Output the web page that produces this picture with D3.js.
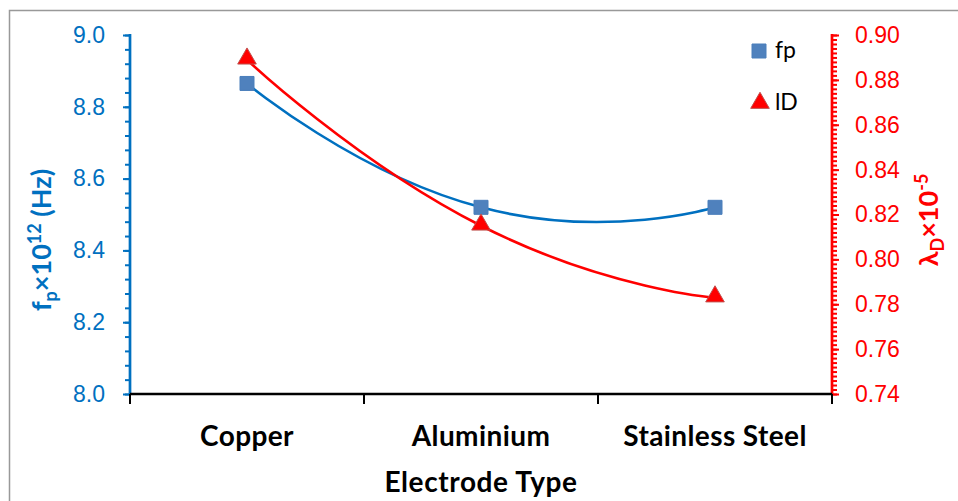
<!DOCTYPE html>
<html><head><meta charset="utf-8">
<script src="https://cdn.jsdelivr.net/npm/d3@7"></script>
<style>body{margin:0;background:#fff}svg{display:block;font-family:Lato,"Open Sans",sans-serif}</style>
</head><body><svg id="c" width="958" height="501"></svg>
<script>
const categories = ["Copper", "Aluminium", "Stainless Steel"];
const fpValues = [8.865, 8.52, 8.52];
const ldValues = [0.889, 0.815, 0.783];
const leftTicks = [8.0, 8.2, 8.4, 8.6, 8.8, 9.0];
const rightTicks = [0.74, 0.76, 0.78, 0.80, 0.82, 0.84, 0.86, 0.88, 0.90];

const BLUE = "#0070C0", RED = "#FF0000";
const svg = d3.select("#c");
const L = 130, R = 832, T = 35, B = 394;

svg.append("rect").attr("x", 9.5).attr("y", 10.5).attr("width", 960).attr("height", 500)
  .attr("fill", "none").attr("stroke", "#999").attr("stroke-width", 1.5);

const x = d3.scaleBand().domain(categories).range([L, R]).padding(0);
const yL = d3.scaleLinear().domain([8, 9]).range([B, T]);
const yR = d3.scaleLinear().domain([0.74, 0.90]).range([B, T]);

// Left axis
const gl = svg.append("g").attr("transform", `translate(${L},0)`);
gl.call(d3.axisLeft(yL).tickValues(d3.range(0, 26).map(i => 8 + i * 0.04)).tickSize(5).tickFormat(""));
gl.selectAll(".tick line").attr("stroke", BLUE).attr("stroke-width", 2);
const glm = svg.append("g").attr("transform", `translate(${L},0)`)
  .call(d3.axisLeft(yL).tickValues(leftTicks).tickSize(7).tickPadding(18).tickFormat(d3.format(".1f")));
glm.selectAll(".tick line").attr("stroke", BLUE).attr("stroke-width", 2);
glm.selectAll(".tick text").attr("fill", BLUE).attr("font-size", 23);
svg.selectAll(".domain").remove();
svg.append("line").attr("x1", L).attr("x2", L).attr("y1", T - 1).attr("y2", B)
  .attr("stroke", BLUE).attr("stroke-width", 2.7);

// Right axis
const gr = svg.append("g").attr("transform", `translate(${R},0)`);
gr.call(d3.axisRight(yR).tickValues(d3.range(0, 81).map(i => 0.74 + i * 0.002)).tickSize(5).tickFormat(""));
gr.selectAll(".tick line").attr("stroke", RED).attr("stroke-width", 2);
const grm = svg.append("g").attr("transform", `translate(${R},0)`)
  .call(d3.axisRight(yR).tickValues(rightTicks).tickSize(7).tickPadding(16).tickFormat(d3.format(".2f")));
grm.selectAll(".tick line").attr("stroke", RED).attr("stroke-width", 2);
grm.selectAll(".tick text").attr("fill", RED).attr("font-size", 23);
svg.selectAll(".domain").remove();
svg.append("line").attr("x1", R).attr("x2", R).attr("y1", T - 1).attr("y2", B)
  .attr("stroke", RED).attr("stroke-width", 2.7);

// X axis
const gx = svg.append("g").attr("transform", `translate(0,${B})`);
gx.append("line").attr("x1", L).attr("x2", R).attr("stroke", "#000").attr("stroke-width", 2.7);
const bounds = categories.map(c => x(c)).concat([R]);
gx.selectAll("line.tk").data(bounds).join("line").attr("class", "tk")
  .attr("x1", d => d).attr("x2", d => d).attr("y1", 0).attr("y2", 10)
  .attr("stroke", "#000").attr("stroke-width", 2);
gx.selectAll("text").data(categories).join("text")
  .attr("x", d => x(d) + x.bandwidth() / 2).attr("y", 52)
  .attr("text-anchor", "middle").attr("font-weight", "bold").attr("font-size", 28)
  .attr("letter-spacing", 0.4).attr("fill", "#000")
  .text(d => d);

svg.append("text").attr("x", (L + R) / 2).attr("y", 492).attr("text-anchor", "middle")
  .attr("font-weight", "bold").attr("font-size", 28).attr("letter-spacing", 0.6).text("Electrode Type");

// Axis titles
const lt = svg.append("text").attr("transform", "translate(51,240) rotate(-90)")
  .attr("text-anchor", "middle").attr("font-weight", "bold").attr("font-size", 27).attr("fill", BLUE);
lt.append("tspan").text("f");
lt.append("tspan").attr("font-size", 18).attr("dy", 6).text("p");
lt.append("tspan").attr("dy", -6).text("×10");
lt.append("tspan").attr("font-size", 18).attr("dy", -10).text("12");
lt.append("tspan").attr("dy", 10).text(" (Hz)");

const rt = svg.append("text").attr("transform", "translate(938,220) rotate(-90)")
  .attr("text-anchor", "middle").attr("font-weight", "bold").attr("font-size", 27).attr("fill", RED);
rt.append("tspan").text("λ");
rt.append("tspan").attr("font-size", 18).attr("dy", 6).text("D");
rt.append("tspan").attr("dy", -6).text("×10");
rt.append("tspan").attr("font-size", 18).attr("dy", -10).text("-5");

// Lines
const curve = d3.curveCardinal.tension(-0.6);
const cx = (d, i) => x(categories[i]) + x.bandwidth() / 2;
svg.append("path").datum(fpValues)
  .attr("d", d3.line().x(cx).y(d => yL(d)).curve(curve))
  .attr("fill", "none").attr("stroke", BLUE).attr("stroke-width", 2.6);
svg.append("path").datum(ldValues)
  .attr("d", d3.line().x(cx).y(d => yR(d)).curve(curve))
  .attr("fill", "none").attr("stroke", RED).attr("stroke-width", 2.6);

// Markers
const sq = d3.symbol().type(d3.symbolSquare).size(196);
const tri = d3.symbol().type(d3.symbolTriangle).size(150);
svg.selectAll("path.fpm").data(fpValues).join("path").attr("class", "fpm")
  .attr("transform", (d, i) => `translate(${cx(d, i)},${yL(d)})`).attr("d", sq)
  .attr("fill", "#4F81BD").attr("stroke", "#4A7EBB").attr("stroke-width", 1);
svg.selectAll("path.ldm").data(ldValues).join("path").attr("class", "ldm")
  .attr("transform", (d, i) => `translate(${cx(d, i)},${yR(d) - 1})`).attr("d", tri)
  .attr("fill", "#FF0000").attr("stroke", "#C0504D").attr("stroke-width", 1);

// Legend
svg.append("path").attr("transform", "translate(759,51)").attr("d", sq)
  .attr("fill", "#4F81BD").attr("stroke", "#4A7EBB");
svg.append("text").attr("x", 775).attr("y", 58).attr("font-size", 23).text("fp");
svg.append("path").attr("transform", "translate(760,103)").attr("d", tri)
  .attr("fill", "#FF0000").attr("stroke", "#C0504D");
svg.append("text").attr("x", 775).attr("y", 110).attr("font-size", 23).text("lD");
</script></body></html>
